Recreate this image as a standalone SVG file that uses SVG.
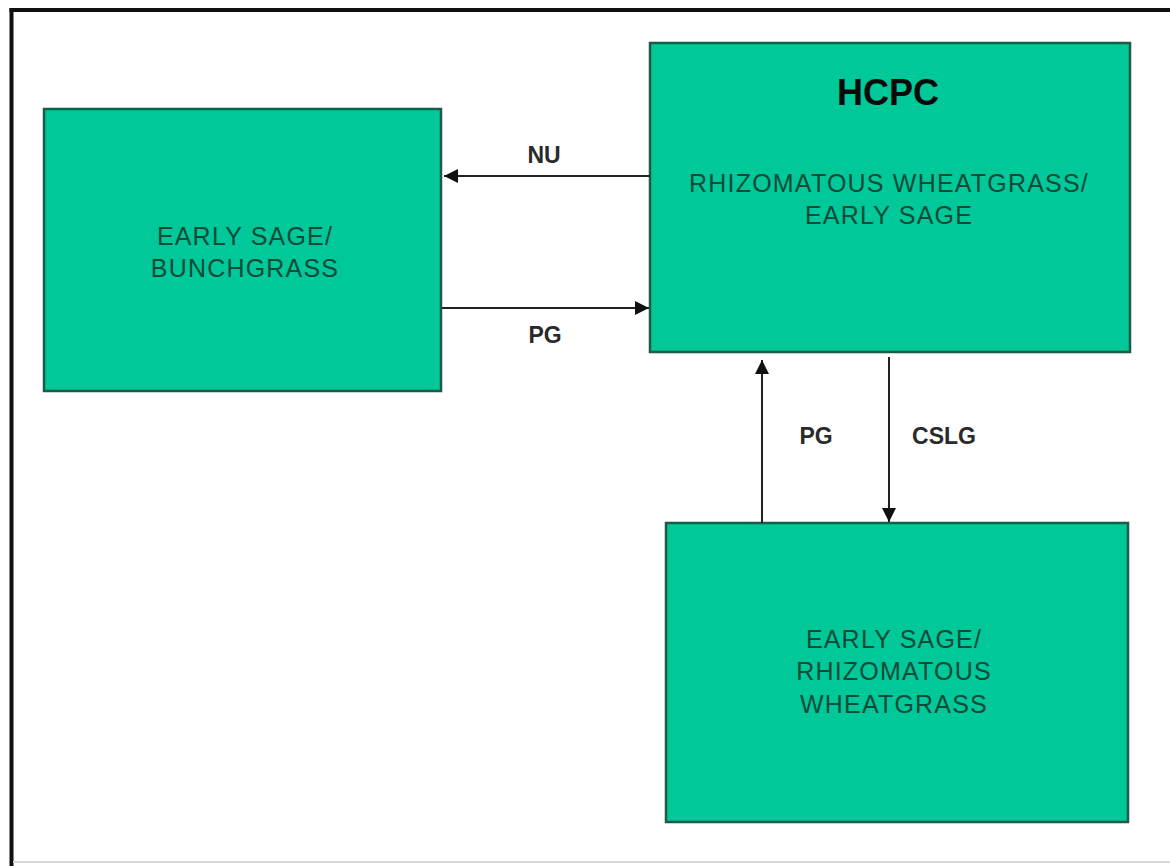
<svg xmlns="http://www.w3.org/2000/svg" width="1170" height="866" viewBox="0 0 1170 866">
<defs>
<style>
.box{fill:#00C898;stroke:#1d5a48;stroke-width:2.5}
.body{font-family:"Liberation Sans",Arial,sans-serif;font-size:25px;letter-spacing:1.2px;fill:#0e4a3a;text-anchor:middle}
.title{font-family:"Liberation Sans",Arial,sans-serif;font-size:36px;font-weight:bold;fill:#0a0a0a;text-anchor:middle}
.lbl{font-family:"Liberation Sans",Arial,sans-serif;font-size:23px;font-weight:bold;fill:#2a2a2a;text-anchor:middle}
.edge{stroke:#222;stroke-width:2;fill:none}
</style>
<marker id="ah" viewBox="0 0 10 10" refX="10" refY="5" markerWidth="16" markerHeight="14" markerUnits="userSpaceOnUse" orient="auto">
<path d="M0,0 L10,5 L0,10 z" fill="#111"/>
</marker>
</defs>
<rect x="0" y="0" width="1170" height="866" fill="#ffffff"/>
<g id="frame">
<line x1="9.5" y1="10" x2="1170" y2="10" stroke="#111" stroke-width="4"/>
<line x1="11.5" y1="8" x2="11.5" y2="866" stroke="#111" stroke-width="4"/>
<line x1="13" y1="862" x2="1170" y2="862" stroke="#d8d8d8" stroke-width="2"/>
</g>
<g id="node-bunchgrass">
<rect class="box" x="44" y="109" width="397" height="282"/>
<text class="body" x="245" y="245">EARLY SAGE/</text>
<text class="body" x="245" y="277">BUNCHGRASS</text>
</g>
<g id="node-hcpc">
<rect class="box" x="650" y="43" width="480" height="309"/>
<text class="title" x="888" y="105">HCPC</text>
<text class="body" x="889" y="192">RHIZOMATOUS WHEATGRASS/</text>
<text class="body" x="889" y="224">EARLY SAGE</text>
</g>
<g id="node-rhizomatous">
<rect class="box" x="666" y="523" width="462" height="299"/>
<text class="body" x="894" y="648">EARLY SAGE/</text>
<text class="body" x="894" y="680">RHIZOMATOUS</text>
<text class="body" x="894" y="713">WHEATGRASS</text>
</g>
<g id="connectors">
<line class="edge" x1="650" y1="176" x2="444" y2="176" marker-end="url(#ah)"/>
<text class="lbl" x="544" y="163">NU</text>
<line class="edge" x1="442" y1="308" x2="649" y2="308" marker-end="url(#ah)"/>
<text class="lbl" x="545" y="343">PG</text>
<line class="edge" x1="762" y1="523" x2="762" y2="360" marker-end="url(#ah)"/>
<text class="lbl" x="816" y="444">PG</text>
<line class="edge" x1="889" y1="357" x2="889" y2="522" marker-end="url(#ah)"/>
<text class="lbl" x="944" y="444">CSLG</text>
</g>
</svg>
